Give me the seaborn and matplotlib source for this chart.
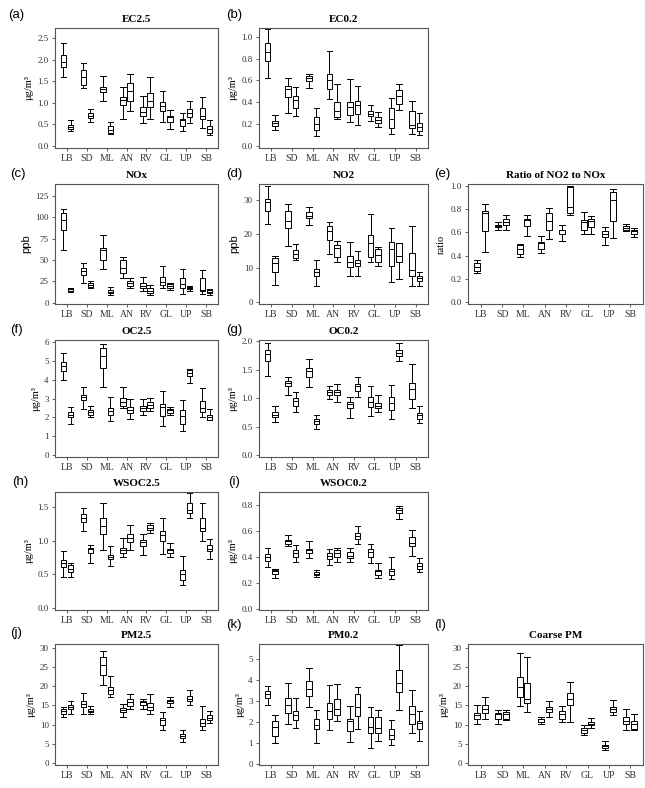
import numpy as np
import pandas as pd
import matplotlib
matplotlib.use("Agg")
import matplotlib.pyplot as plt
import seaborn as sns

sites = ["LB", "SD", "ML", "AN", "RV", "GL", "UP", "SB"]

# five-number summaries per site: (whisker low, Q1, median, Q3, whisker high)
ec25_1 = [(1.60, 1.83, 1.95, 2.10, 2.39), (1.34, 1.42, 1.60, 1.76, 1.91), (1.05, 1.24, 1.32, 1.37, 1.62),
          (0.63, 0.95, 1.07, 1.13, 1.37), (0.54, 0.68, 0.78, 0.90, 1.16), (0.56, 0.80, 0.93, 1.01, 1.26),
          (0.34, 0.45, 0.59, 0.63, 0.76), (0.42, 0.63, 0.68, 0.88, 1.13)]
ec25_2 = [(0.34, 0.39, 0.44, 0.48, 0.60), (0.56, 0.64, 0.70, 0.76, 0.85), (0.27, 0.30, 0.37, 0.46, 0.56),
          (0.81, 1.05, 1.27, 1.45, 1.66), (0.62, 0.90, 1.03, 1.23, 1.59), (0.39, 0.56, 0.66, 0.70, 0.84),
          (0.54, 0.66, 0.76, 0.85, 1.03), (0.25, 0.30, 0.39, 0.45, 0.60)]

ec02_1 = [(0.62, 0.78, 0.86, 0.94, 1.07), (0.30, 0.45, 0.52, 0.55, 0.62), (0.53, 0.59, 0.62, 0.64, 0.66),
          (0.43, 0.52, 0.60, 0.66, 0.87), (0.22, 0.28, 0.36, 0.40, 0.61), (0.23, 0.27, 0.29, 0.32, 0.37),
          (0.11, 0.16, 0.25, 0.35, 0.44), (0.11, 0.16, 0.19, 0.32, 0.41)]
ec02_2 = [(0.145, 0.18, 0.21, 0.23, 0.28), (0.27, 0.35, 0.42, 0.46, 0.54), (0.086, 0.145, 0.20, 0.26, 0.35),
          (0.25, 0.26, 0.32, 0.40, 0.57), (0.19, 0.29, 0.37, 0.41, 0.55), (0.17, 0.21, 0.24, 0.26, 0.31),
          (0.33, 0.38, 0.46, 0.51, 0.57), (0.10, 0.14, 0.17, 0.21, 0.30)]

nox_1 = [(62, 85, 97, 105, 110), (23, 33, 37, 41, 47), (39, 50.6, 61.5, 63.5, 79),
         (28.4, 34.3, 40.9, 50.6, 53), (13.6, 16.7, 19.5, 22.6, 30.4), (17.5, 20.6, 24.5, 30.4, 42.8),
         (10, 16.7, 21.4, 28.4, 40), (9.7, 13.6, 14.8, 28.4, 38)]
nox_2 = [(12.8, 14, 15.6, 16.7, 17.5), (16.7, 18.7, 20.6, 23.4, 25.7), (9, 10.9, 12.8, 14.8, 18.7),
         (16.7, 19.5, 22.6, 25.7, 29), (9, 10.9, 14, 16.7, 20.6), (14.8, 16.7, 19.5, 21.4, 23.4),
         (13.6, 16, 17.5, 18.7, 19.5), (9, 10.9, 12.8, 14.8, 15.6)]

no2_1 = [(23.1, 27, 29.4, 30.4, 34.3), (16.5, 21.9, 23.8, 26.8, 29), (22.8, 24.8, 25.5, 26.5, 27.9),
         (14.2, 18.4, 20.9, 22.4, 23.5), (7.6, 10.4, 11.8, 13.5, 17.6), (11.9, 13.2, 17.5, 19.9, 26),
         (5.9, 10.8, 15.7, 17.6, 21.9), (4.7, 7.8, 9.6, 14.5, 22.5)]
no2_2 = [(5, 8.9, 11.6, 13, 13.5), (12.4, 13, 14.2, 15.3, 17.2), (4.7, 7.6, 8.9, 9.8, 12.5),
         (12, 13.2, 16, 17, 18.1), (7.8, 10.8, 11.6, 12.5, 15.2), (10.6, 12, 14, 15.7, 16.3),
         (6.9, 11.8, 13.5, 17.3, 17.5), (4.7, 6.2, 7.2, 7.6, 8.8)]

ratio_1 = [(0.25, 0.27, 0.30, 0.335, 0.36), (0.625, 0.645, 0.655, 0.665, 0.69), (0.39, 0.415, 0.46, 0.49, 0.50),
           (0.42, 0.46, 0.505, 0.52, 0.57), (0.53, 0.59, 0.62, 0.625, 0.665), (0.59, 0.62, 0.69, 0.71, 0.78),
           (0.49, 0.56, 0.59, 0.615, 0.645), (0.615, 0.62, 0.64, 0.66, 0.67)]
ratio_2 = [(0.43, 0.615, 0.77, 0.79, 0.845), (0.625, 0.665, 0.69, 0.715, 0.75), (0.57, 0.655, 0.71, 0.72, 0.75),
           (0.54, 0.625, 0.70, 0.77, 0.81), (0.75, 0.77, 0.825, 0.995, 1.0), (0.59, 0.65, 0.70, 0.72, 0.74),
           (0.55, 0.70, 0.885, 0.95, 0.975), (0.56, 0.585, 0.61, 0.62, 0.635)]

oc25_1 = [(3.98, 4.47, 4.74, 4.91, 5.39), (2.44, 2.93, 3.07, 3.19, 3.60), (3.60, 4.60, 5.25, 5.70, 5.88),
          (2.49, 2.61, 2.84, 3.05, 3.60), (2.14, 2.32, 2.49, 2.61, 2.96), (1.56, 2.05, 2.53, 2.72, 3.40),
          (1.30, 1.67, 2.05, 2.37, 2.93), (2.00, 2.28, 2.49, 2.89, 3.54)]
oc25_2 = [(1.65, 2.02, 2.14, 2.26, 2.53), (2.02, 2.14, 2.28, 2.40, 2.58), (1.82, 2.11, 2.32, 2.49, 3.07),
          (1.93, 2.23, 2.40, 2.54, 2.96), (2.35, 2.49, 2.67, 2.79, 3.05), (2.14, 2.23, 2.37, 2.44, 2.54),
          (3.81, 4.21, 4.37, 4.51, 4.56), (1.84, 1.88, 2.00, 2.11, 2.44)]

oc02_1 = [(1.39, 1.65, 1.78, 1.85, 1.97), (1.06, 1.22, 1.27, 1.31, 1.37), (1.20, 1.37, 1.47, 1.53, 1.69),
          (0.98, 1.06, 1.11, 1.15, 1.22), (0.65, 0.83, 0.89, 0.93, 1.02), (0.68, 0.84, 0.94, 1.03, 1.21),
          (0.64, 0.79, 0.92, 1.03, 1.24), (0.83, 0.99, 1.16, 1.27, 1.60)]
oc02_2 = [(0.58, 0.67, 0.71, 0.75, 0.86), (0.75, 0.87, 0.95, 1.01, 1.11), (0.46, 0.55, 0.60, 0.64, 0.70),
          (0.93, 1.05, 1.11, 1.15, 1.25), (1.02, 1.12, 1.21, 1.25, 1.37), (0.75, 0.82, 0.87, 0.92, 1.05),
          (1.65, 1.74, 1.80, 1.84, 1.96), (0.57, 0.64, 0.70, 0.74, 0.87)]

wsoc25_1 = [(0.46, 0.61, 0.66, 0.71, 0.84), (1.14, 1.28, 1.34, 1.39, 1.48), (0.86, 1.10, 1.21, 1.33, 1.55),
            (0.75, 0.82, 0.86, 0.89, 1.04), (0.78, 0.92, 0.98, 1.01, 1.10), (0.80, 1.00, 1.08, 1.14, 1.34),
            (0.34, 0.41, 0.51, 0.57, 0.77), (0.99, 1.14, 1.18, 1.34, 1.55)]
wsoc25_2 = [(0.46, 0.53, 0.58, 0.63, 0.66), (0.67, 0.82, 0.87, 0.89, 0.93), (0.62, 0.72, 0.76, 0.79, 0.92),
            (0.86, 0.98, 1.04, 1.09, 1.23), (1.11, 1.15, 1.19, 1.23, 1.26), (0.76, 0.82, 0.86, 0.88, 0.97),
            (1.33, 1.41, 1.45, 1.56, 1.70), (0.73, 0.84, 0.88, 0.93, 1.03)]

wsoc02_1 = [(0.32, 0.37, 0.40, 0.42, 0.47), (0.48, 0.50, 0.52, 0.53, 0.57), (0.39, 0.43, 0.45, 0.46, 0.52),
            (0.34, 0.38, 0.41, 0.43, 0.46), (0.36, 0.39, 0.41, 0.44, 0.47), (0.35, 0.395, 0.44, 0.46, 0.50),
            (0.23, 0.26, 0.29, 0.31, 0.395), (0.41, 0.48, 0.51, 0.55, 0.61)]
wsoc02_2 = [(0.24, 0.27, 0.29, 0.30, 0.31), (0.36, 0.40, 0.43, 0.45, 0.49), (0.245, 0.26, 0.27, 0.28, 0.30),
            (0.36, 0.40, 0.43, 0.45, 0.465), (0.50, 0.54, 0.56, 0.58, 0.64), (0.24, 0.26, 0.29, 0.30, 0.35),
            (0.69, 0.74, 0.76, 0.78, 0.79), (0.28, 0.31, 0.33, 0.35, 0.39)]

pm25_1 = [(12.0, 12.9, 13.6, 14.0, 14.6), (12.7, 14.5, 15.5, 16.2, 18.2), (20.2, 22.8, 25.6, 27.5, 29.1),
          (12.0, 13.2, 13.8, 14.3, 15.5), (14.2, 15.2, 15.8, 16.2, 16.8), (8.5, 9.8, 11.1, 11.7, 13.2),
          (5.4, 6.4, 7.0, 7.6, 8.5), (8.5, 9.6, 10.5, 11.6, 14.9)]
pm25_2 = [(12.9, 14.0, 14.6, 15.2, 16.2), (12.7, 13.2, 13.6, 14.2, 14.9), (17.1, 18.0, 18.9, 19.9, 22.6),
          (14.2, 14.9, 15.8, 16.7, 18.0), (12.7, 13.8, 14.5, 15.6, 18.0), (14.6, 15.6, 16.1, 16.5, 17.3),
          (15.2, 16.1, 16.8, 17.4, 18.9), (10.5, 11.1, 11.8, 12.5, 13.6)]

pm02_1 = [(2.82, 3.15, 3.31, 3.47, 3.68), (1.89, 2.42, 2.79, 3.15, 3.84), (2.69, 3.23, 3.55, 3.92, 4.56),
          (1.61, 2.15, 2.50, 2.90, 3.74), (1.05, 1.58, 2.02, 2.15, 2.77), (0.76, 1.48, 1.77, 2.21, 2.71),
          (0.89, 1.16, 1.37, 1.66, 2.10), (1.48, 1.90, 2.39, 2.74, 3.50)]
pm02_2 = [(1.00, 1.32, 1.74, 2.05, 2.31), (1.69, 2.10, 2.34, 2.50, 3.11), (1.00, 1.66, 1.85, 2.13, 2.58),
          (2.02, 2.34, 2.61, 3.06, 3.79), (1.65, 2.26, 2.69, 3.31, 3.63), (1.08, 1.48, 1.69, 2.21, 2.58),
          (2.55, 3.39, 3.84, 4.44, 5.65), (1.10, 1.66, 1.94, 2.05, 2.53)]

coarse_1 = [(10.3, 11.6, 12.5, 13.1, 15.1), (10.3, 11.6, 12.7, 13.1, 13.8), (14.9, 17.3, 19.9, 22.3, 28.6),
            (10.2, 10.8, 11.4, 11.6, 12.0), (10.8, 11.6, 12.9, 13.6, 14.9), (7.4, 7.9, 8.6, 9.2, 9.9),
            (3.3, 3.8, 4.4, 4.6, 5.7), (8.6, 10.2, 10.9, 12.0, 14.2)]
coarse_2 = [(11.4, 13.1, 14.2, 15.1, 17.1), (11.1, 11.6, 12.7, 13.3, 13.8), (13.4, 15.6, 16.8, 20.8, 27.7),
            (12.0, 13.4, 14.2, 14.7, 16.2), (10.8, 15.1, 16.6, 18.2, 21.2), (9.2, 9.8, 10.3, 10.8, 11.8),
            (12.5, 13.4, 14.0, 14.7, 16.4), (8.5, 9.0, 10.1, 10.9, 12.9)]

UG = "\u03bcg/m\u00b3"
panels = [
    # label, title, ylabel, data1, data2, yticks, ylim, row, col, yfmt
    ("(a)", "EC2.5", UG, ec25_1, ec25_2, [0, 0.5, 1.0, 1.5, 2.0, 2.5], (-0.05, 2.73), 0, 0, "{:.1f}"),
    ("(b)", "EC0.2", UG, ec02_1, ec02_2, [0, 0.2, 0.4, 0.6, 0.8, 1.0], (-0.02, 1.08), 0, 1, "{:.1f}"),
    ("(c)", "NOx", "ppb", nox_1, nox_2, [0, 25, 50, 75, 100, 125], (-1.5, 139), 1, 0, "{:.0f}"),
    ("(d)", "NO2", "ppb", no2_1, no2_2, [0, 10, 20, 30], (-0.5, 34.8), 1, 1, "{:.0f}"),
    ("(e)", "Ratio of NO2 to NOx", "ratio", ratio_1, ratio_2, [0, 0.2, 0.4, 0.6, 0.8, 1.0], (-0.02, 1.02), 1, 2, "{:.1f}"),
    ("(f)", "OC2.5", UG, oc25_1, oc25_2, [0, 1, 2, 3, 4, 5, 6], (-0.1, 6.1), 2, 0, "{:.0f}"),
    ("(g)", "OC0.2", UG, oc02_1, oc02_2, [0, 0.5, 1.0, 1.5, 2.0], (-0.03, 2.02), 2, 1, "{:.1f}"),
    ("(h)", "WSOC2.5", UG, wsoc25_1, wsoc25_2, [0, 0.5, 1.0, 1.5], (-0.03, 1.72), 3, 0, "{:.1f}"),
    ("(i)", "WSOC0.2", UG, wsoc02_1, wsoc02_2, [0, 0.2, 0.4, 0.6, 0.8], (-0.01, 0.90), 3, 1, "{:.1f}"),
    ("(j)", "PM2.5", UG, pm25_1, pm25_2, [0, 5, 10, 15, 20, 25, 30], (-0.5, 31), 4, 0, "{:.0f}"),
    ("(k)", "PM0.2", UG, pm02_1, pm02_2, [0, 1, 2, 3, 4, 5], (-0.05, 5.69), 4, 1, "{:.0f}"),
    ("(l)", "Coarse PM", UG, coarse_1, coarse_2, [0, 5, 10, 15, 20, 25, 30], (-0.5, 31), 4, 2, "{:.0f}"),
]

W, H = 645, 788
fig = plt.figure(figsize=(W / 100, H / 100), dpi=100)
fig.patch.set_facecolor("white")

col_x = [(55, 163), (259, 169), (468, 175)]
row_y = [(28, 148), (184, 304), (340, 457), (492, 610), (644, 765)]
label_pos = {"(a)": (8, 15), "(b)": (226, 15), "(c)": (10, 174), "(d)": (226, 174), "(e)": (434, 174),
             "(f)": (10, 330), "(g)": (226, 330), "(h)": (12, 482), "(i)": (228, 482),
             "(j)": (10, 633), "(k)": (226, 625), "(l)": (434, 625)}

SERIF = "Liberation Serif"
SANS = "Liberation Sans"
BOXW = 0.72
GAP = 0.25
CAPW = BOXW / 2 * (1 - GAP)

for lab, title, ylab, d1, d2, yt, yl, r, c, fmt in panels:
    x0, w = col_x[c]
    top, bot = row_y[r]
    ax = fig.add_axes([x0 / W, 1 - bot / H, w / W, (bot - top) / H])
    rows = []
    for s, a, b in zip(sites, d1, d2):
        for v in a:
            rows.append((s, "g1", v))
        for v in b:
            rows.append((s, "g2", v))
    df = pd.DataFrame(rows, columns=["site", "group", "value"])
    sns.boxplot(data=df, x="site", y="value", hue="group", order=sites, hue_order=["g1", "g2"],
                palette=["white", "white"], linecolor="black", linewidth=0.7, width=BOXW, gap=GAP,
                whis=(0, 100), showfliers=False, legend=False, ax=ax, capwidths=CAPW)
    ax.set_ylim(*yl)
    ax.set_xlim(-0.6, 7.6)
    ax.set_yticks(yt)
    ax.set_yticklabels([fmt.format(v) for v in yt], fontfamily=SERIF, fontsize=6.5, color="#333333")
    ax.set_xticks(range(len(sites)))
    ax.set_xticklabels(sites, fontfamily=SERIF, fontsize=7, color="#333333")
    ax.set_xlabel("")
    ax.tick_params(axis="both", direction="out", length=2.5, width=0.6, color="#444444", pad=2)
    for sp in ax.spines.values():
        sp.set_visible(True)
        sp.set_color("#555555")
        sp.set_linewidth(0.8)
    ax.set_title(title, fontfamily=SERIF, fontweight="bold", fontsize=8, pad=4)
    yfam = SANS if ylab == "ppb" else SERIF
    ax.set_ylabel(ylab, fontfamily=yfam, fontsize=8 if ylab == "ppb" else 7.5, labelpad=3)
    lx, ly = label_pos[lab]
    fig.text(lx / W, 1 - ly / H, lab, fontfamily=SANS, fontsize=9.5, va="center", ha="left")

fig.savefig("out.png", dpi=100, facecolor="white")
